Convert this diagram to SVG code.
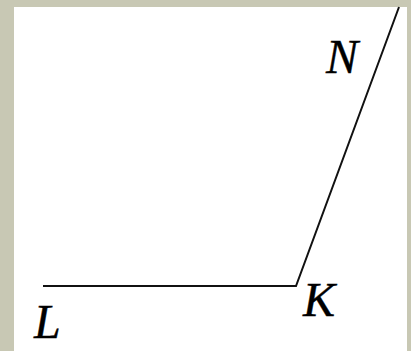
<svg xmlns="http://www.w3.org/2000/svg" width="411" height="351" viewBox="0 0 411 351">
<style>
.lbl{font-family:"Liberation Serif","DejaVu Serif",serif;font-style:italic;font-size:48px;fill:#000;stroke:#000;stroke-width:0.4}
.seg{stroke:#111;stroke-width:2;fill:none;stroke-linecap:butt;stroke-linejoin:miter}
</style>
<rect x="0" y="0" width="411" height="351" fill="#c8c8b4"/>
<rect x="14" y="7" width="393" height="344" fill="#ffffff"/>
<g id="connectors">
<polyline class="seg" points="43,286 296,286 399,7"/>
</g>
<g id="node-L"><text class="lbl" x="34" y="338">L</text></g>
<g id="node-K"><text class="lbl" x="303" y="316">K</text></g>
<g id="node-N"><text class="lbl" x="326" y="73">N</text></g>
</svg>
